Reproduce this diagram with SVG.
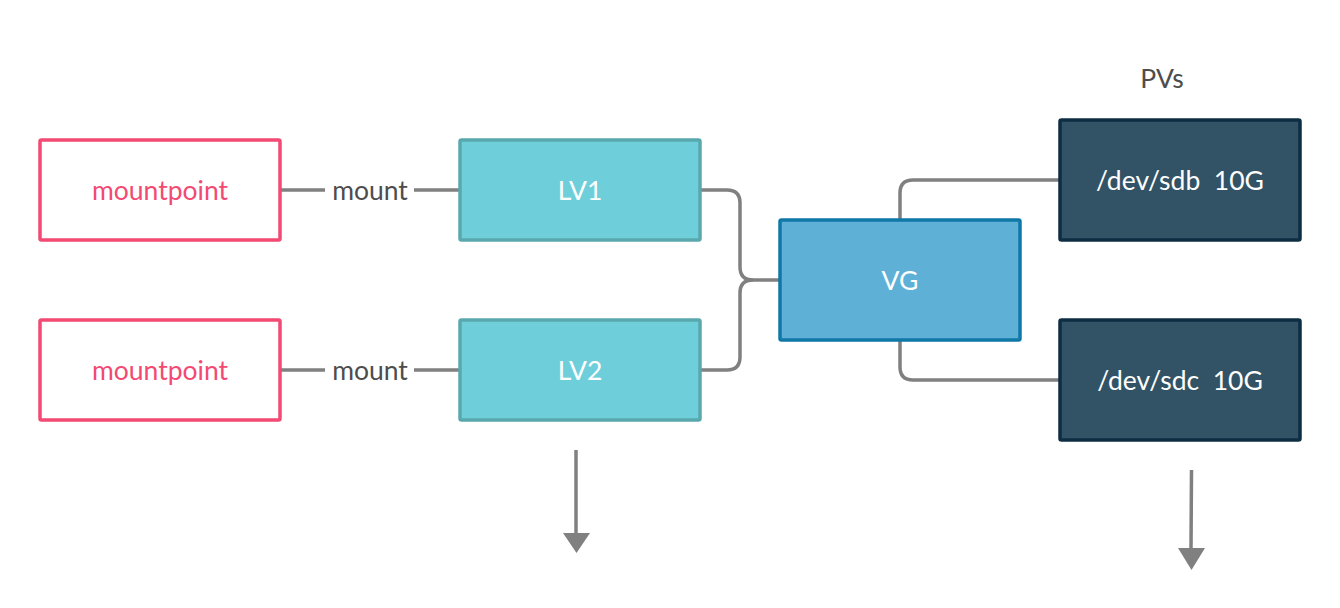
<svg xmlns="http://www.w3.org/2000/svg" width="1340" height="608" viewBox="0 0 1340 608">
<style>
text{font-family:Lato,"Liberation Sans",sans-serif;font-size:26.5px;text-anchor:middle;dominant-baseline:central;white-space:pre}
.mp rect{fill:#fff;stroke:#f24a72;stroke-width:3.5}
.mp text{fill:#f24a72}
.lv rect{fill:#6ecfdb;stroke:#58a8ae;stroke-width:3.5}
.vg rect{fill:#5eb0d6;stroke:#0f78a6;stroke-width:3.5}
.pv rect{fill:#325365;stroke:#0d2e42;stroke-width:3.5}
.w{fill:#fff}
.lbl{fill:#4d4d4d}
.c{fill:none;stroke:#808080;stroke-width:3.5}
</style>
<g id="connectors">
<path class="c" d="M281,190 H325 M414,190 H460"/>
<path class="c" d="M281,370 H325 M414,370 H460"/>
<text x="370" y="190" class="lbl">mount</text>
<text x="370" y="370" class="lbl">mount</text>
<path class="c" d="M700,190 H727 Q740,190 740,203 V267 Q740,280 753,280 H780"/>
<path class="c" d="M700,370 H727 Q740,370 740,357 V293 Q740,280 753,280"/>
<path class="c" d="M900,220 V193 Q900,180 913,180 H1060"/>
<path class="c" d="M900,340 V367 Q900,380 913,380 H1060"/>
<line class="c" x1="576" y1="450" x2="576" y2="534"/>
<path d="M563,533 L590,533 L576.5,553 Z" fill="#808080"/>
<line class="c" x1="1191.5" y1="470" x2="1191" y2="549"/>
<path d="M1178,548 L1205,548 L1191.5,570 Z" fill="#808080"/>
</g>
<g id="mp1" class="mp"><rect x="40" y="140" width="240" height="100" rx="1.5"/><text x="160" y="190">mountpoint</text></g>
<g id="mp2" class="mp"><rect x="40" y="320" width="240" height="100" rx="1.5"/><text x="160" y="370">mountpoint</text></g>
<g id="lv1" class="lv"><rect x="460" y="140" width="240" height="100" rx="1.5"/><text x="580" y="190" class="w">LV1</text></g>
<g id="lv2" class="lv"><rect x="460" y="320" width="240" height="100" rx="1.5"/><text x="580" y="370" class="w">LV2</text></g>
<g id="vg" class="vg"><rect x="780" y="220" width="240" height="120" rx="1.5"/><text x="900" y="280" class="w">VG</text></g>
<g id="pvs-label"><text x="1162" y="78" class="lbl">PVs</text></g>
<g id="pv1" class="pv"><rect x="1060" y="120" width="240" height="120" rx="1.5"/><text x="1180" y="180" class="w">/dev/sdb  10G</text></g>
<g id="pv2" class="pv"><rect x="1060" y="320" width="240" height="120" rx="1.5"/><text x="1180" y="380" class="w">/dev/sdc  10G</text></g>
</svg>
